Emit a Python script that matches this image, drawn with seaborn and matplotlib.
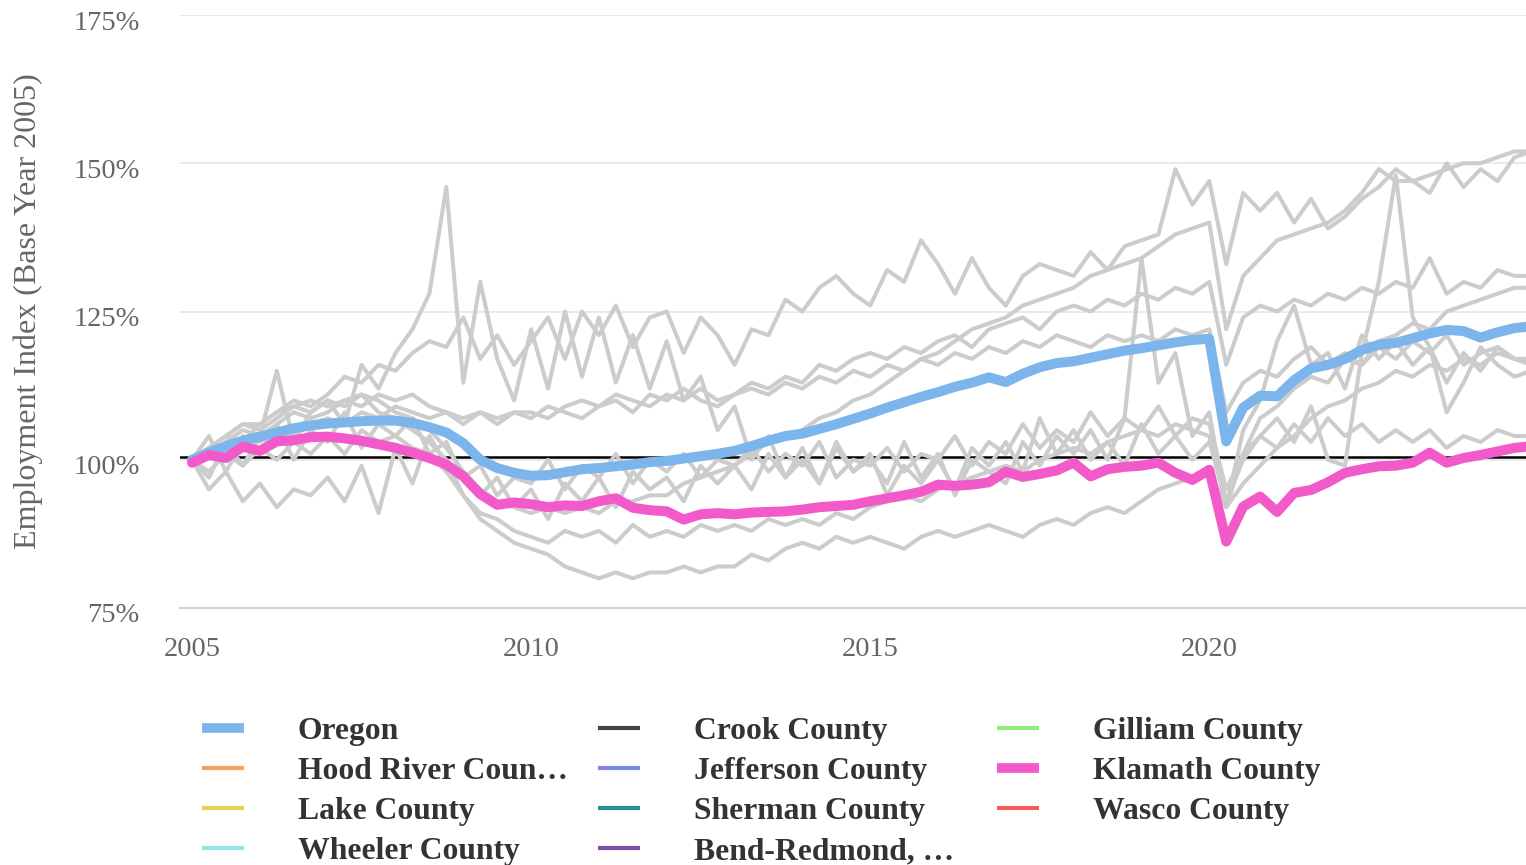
import matplotlib
matplotlib.use("Agg")
import matplotlib.pyplot as plt
import matplotlib.transforms as mtransforms
from matplotlib.lines import Line2D
import seaborn as sns
import pandas as pd
import numpy as np

# quarterly employment index, base year 2005 = 100
quarters = pd.date_range("2005-01-01", periods=80, freq="QS")

oregon = [
    100.0, 101.2, 102.3, 103.2, 103.9, 104.6, 105.3, 105.8, 106.1, 106.3, 106.5, 106.6,
    106.6, 106.2, 105.5, 104.6, 102.8, 100.0, 98.6, 97.8, 97.3, 97.4, 97.9, 98.4,
    98.6, 98.9, 99.2, 99.6, 99.8, 100.2, 100.6, 101.0, 101.5, 102.3, 103.2, 104.0,
    104.4, 105.2, 106.0, 106.9, 107.8, 108.8, 109.7, 110.6, 111.4, 112.3, 113.0, 113.9,
    113.1, 114.5, 115.6, 116.3, 116.6, 117.2, 117.8, 118.4, 118.8, 119.3, 119.8, 120.2,
    120.4, 103.1, 108.8, 110.8, 110.7, 113.4, 115.4, 116.0, 117.0, 118.5, 119.4, 119.7,
    120.5, 121.3, 121.9, 121.7, 120.6, 121.5, 122.2, 122.5,
]
klamath = [
    99.5, 100.8, 100.3, 102.2, 101.5, 103.1, 103.3, 103.8, 103.9, 103.6, 103.2, 102.6,
    102.0, 101.2, 100.3, 99.2, 97.2, 94.2, 92.4, 92.8, 92.5, 92.0, 92.3, 92.2,
    93.0, 93.5, 91.9, 91.5, 91.3, 89.9, 90.8, 91.0, 90.8, 91.1, 91.2, 91.3,
    91.6, 92.0, 92.2, 92.4, 93.0, 93.5, 94.0, 94.6, 95.8, 95.6, 95.8, 96.2,
    98.0, 97.1, 97.6, 98.2, 99.5, 97.2, 98.4, 98.8, 99.0, 99.5, 97.8, 96.6,
    98.3, 86.2, 92.1, 93.8, 91.2, 94.4, 94.9, 96.2, 97.8, 98.4, 98.9, 99.0,
    99.5, 101.2, 99.5, 100.3, 100.8, 101.4, 102.0, 102.3,
]
sherman = [
    100, 102, 104, 103, 106, 108, 110, 109, 111, 114, 113, 116,
    115, 118, 120, 119, 124, 117, 121, 116, 120, 124, 117, 125,
    121, 126, 119, 124, 125, 118, 124, 121, 116, 122, 121, 127,
    125, 129, 131, 128, 126, 132, 130, 137, 133, 128, 134, 129,
    126, 131, 133, 132, 131, 135, 132, 136, 137, 138, 149, 143,
    147, 133, 145, 142, 145, 140, 144, 139, 141, 144, 146, 149,
    147, 145, 150, 146, 149, 147, 151, 152,
]
bend_redmond = [
    100, 102, 104, 106, 106, 108, 109, 110, 109, 110, 111, 110,
    108, 107, 105, 102, 98, 95, 93, 92, 91, 92, 91, 92,
    91, 93, 93, 94, 94, 96, 97, 98, 99, 101, 103, 104,
    105, 107, 108, 110, 111, 113, 115, 117, 118, 120, 122, 123,
    124, 126, 127, 128, 129, 131, 132, 133, 134, 136, 138, 139,
    140, 122, 131, 134, 137, 138, 139, 140, 142, 145, 149, 147,
    147, 148, 149, 150, 150, 151, 152, 152,
]
gilliam = [
    100, 97, 103, 99, 104, 115, 103, 108, 110, 106, 116, 112,
    118, 122, 128, 146, 113, 130, 117, 110, 122, 112, 125, 114,
    124, 113, 121, 112, 120, 110, 114, 105, 109, 100, 104, 97,
    102, 96, 103, 98, 100, 96, 103, 97, 101, 94, 100, 98,
    96, 103, 99, 104, 101, 105, 100, 107, 134, 113, 118, 104,
    108, 92, 105, 110, 120, 126, 116, 118, 112, 121, 117, 120,
    116, 119, 113, 118, 115, 119, 117, 116,
]
wheeler = [
    100, 95, 98, 93, 96, 92, 95, 94, 97, 93, 99, 91,
    102, 96, 104, 99, 98, 94, 97, 92, 95, 90, 96, 93,
    97, 92, 98, 95, 97, 93, 99, 96, 99, 95, 101, 97,
    100, 96, 102, 98, 101, 94, 99, 96, 100, 95, 102, 99,
    103, 98, 107, 101, 105, 100, 103, 99, 106, 101, 104, 100,
    103, 93, 100, 104, 107, 103, 109, 100, 99, 118, 130, 148,
    124, 119, 108, 113, 119, 116, 114, 115,
]
hood_river = [
    100, 101, 103, 105, 104, 106, 108, 107, 108, 110, 109, 111,
    110, 111, 109, 108, 107, 108, 106, 108, 107, 109, 108, 107,
    109, 110, 108, 111, 110, 112, 110, 109, 111, 113, 112, 114,
    113, 116, 115, 117, 118, 117, 119, 118, 120, 121, 119, 122,
    123, 124, 122, 125, 126, 125, 127, 126, 128, 127, 129, 128,
    130, 116, 124, 126, 125, 127, 126, 128, 127, 129, 128, 130,
    129, 134, 128, 130, 129, 132, 131, 131,
]
wasco = [
    100, 102, 101, 104, 103, 105, 104, 106, 107, 106, 108, 107,
    109, 108, 107, 108, 106, 108, 107, 108, 108, 107, 109, 110,
    109, 111, 110, 109, 111, 110, 112, 110, 111, 112, 111, 113,
    112, 114, 113, 115, 114, 116, 115, 117, 116, 118, 117, 119,
    118, 120, 119, 121, 120, 119, 121, 120, 121, 120, 122, 121,
    122, 108, 113, 115, 114, 117, 119, 116, 118, 116, 119, 117,
    120, 118, 121, 116, 118, 119, 117, 117,
]
jefferson = [
    100, 104, 98, 103, 101, 106, 100, 105, 103, 108, 102, 106,
    104, 107, 101, 103, 97, 99, 94, 97, 96, 100, 95, 99,
    97, 101, 96, 100, 98, 101, 97, 100, 99, 102, 98, 101,
    99, 103, 97, 100, 99, 102, 98, 101, 100, 104, 99, 103,
    101, 106, 102, 105, 103, 108, 104, 107, 105, 109, 104, 107,
    106, 95, 101, 104, 102, 106, 103, 107, 104, 106, 103, 105,
    103, 105, 102, 104, 103, 105, 104, 104,
]
lake = [
    100, 98, 101, 99, 102, 100, 103, 101, 104, 101, 105, 103,
    104, 102, 101, 98, 94, 91, 90, 88, 87, 86, 88, 87,
    88, 86, 89, 87, 88, 87, 89, 88, 89, 88, 90, 89,
    90, 89, 91, 90, 92, 93, 94, 93, 95, 96, 97, 98,
    99, 98, 100, 101, 102, 101, 103, 104, 105, 104, 106, 105,
    104, 92, 101, 107, 109, 112, 114, 113, 117, 116, 120, 121,
    123, 122, 125, 126, 127, 128, 129, 129,
]
crook = [
    100, 102, 104, 106, 105, 107, 109, 108, 110, 109, 111, 108,
    107, 105, 103, 100, 94, 90, 88, 86, 85, 84, 82, 81,
    80, 81, 80, 81, 81, 82, 81, 82, 82, 84, 83, 85,
    86, 85, 87, 86, 87, 86, 85, 87, 88, 87, 88, 89,
    88, 87, 89, 90, 89, 91, 92, 91, 93, 95, 96, 97,
    98, 92, 96, 99, 102, 104, 107, 109, 110, 112, 113, 115,
    114, 116, 115, 117, 116, 118, 117, 117,
]

baseline = 100.5

highlight = {"Oregon": oregon, "Klamath County": klamath}
background = {
    "Sherman County": sherman, "Bend-Redmond": bend_redmond, "Gilliam County": gilliam,
    "Wheeler County": wheeler, "Hood River County": hood_river, "Wasco County": wasco,
    "Jefferson County": jefferson, "Lake County": lake, "Crook County": crook,
}

years = quarters.year + (quarters.month - 1) / 12.0

def to_long(series):
    frames = [pd.DataFrame({"year": years, "index": vals, "area": name})
              for name, vals in series.items()]
    return pd.concat(frames, ignore_index=True)

bg_df = to_long(background)

sns.set_style("white")
plt.rcParams["font.family"] = ["Liberation Serif", "DejaVu Serif"]

fig = plt.figure(figsize=(15.26, 8.65), dpi=100)
ax = fig.add_axes([180 / 1526, 1 - 608 / 865, 1 - 180 / 1526, (608 - 15) / 865])

ax.axhline(baseline, color="black", lw=1.8, zorder=1.5)

sns.lineplot(data=bg_df, x="year", y="index", hue="area",
             palette=["#cccccc"] * len(background), lw=2.9, legend=False,
             ax=ax, zorder=2, solid_joinstyle="round")
sns.lineplot(x=years, y=oregon, color="#7cb5ec", lw=7.2, ax=ax, zorder=3,
             solid_joinstyle="round", solid_capstyle="round")
sns.lineplot(x=years, y=klamath, color="#f25ac9", lw=7.2, ax=ax, zorder=3,
             solid_joinstyle="round", solid_capstyle="round")

ax.set_xlim(2004.823, 2024.67)
ax.set_ylim(75, 175)
ax.set_yticks([75, 100, 125, 150, 175])
ax.set_yticklabels(["75%", "100%", "125%", "150%", "175%"])
ax.set_xticks([2005, 2010, 2015, 2020])
ax.set_xticklabels(["2005", "2010", "2015", "2020"])

ax.grid(axis="y", color="#e6e6e6", lw=1.2)
ax.grid(axis="x", visible=False)
for side in ["top", "right", "left"]:
    ax.spines[side].set_visible(False)
ax.spines["bottom"].set_color("#ccd6eb")
ax.spines["bottom"].set_linewidth(1.6)

ax.tick_params(axis="y", length=0, pad=29, labelsize=20.5, labelcolor="#666666")
ax.tick_params(axis="x", length=15, width=1.4, color="#ccd6eb", pad=6,
               labelsize=20.5, labelcolor="#666666")
offset = mtransforms.ScaledTranslation(0, -5 / 100, fig.dpi_scale_trans)
for lab in ax.get_yticklabels():
    lab.set_transform(lab.get_transform() + offset)

ax.set_xlabel("")
ax.set_ylabel("Employment Index (Base Year 2005)", fontsize=23, color="#666666")
ax.yaxis.set_label_coords(-137 / 1346, 0.5)

# legend laid out row by row in three fixed-width columns
columns = [
    [("Oregon", "#7cb5ec", 7), ("Hood River Coun…", "#f7a35c", 3),
     ("Lake County", "#e4d354", 3), ("Wheeler County", "#91e8e1", 3)],
    [("Crook County", "#434348", 3), ("Jefferson County", "#8085e9", 3),
     ("Sherman County", "#2b908f", 3), ("Bend-Redmond, …", "#7f4fa8", 3)],
    [("Gilliam County", "#90ed7d", 3), ("Klamath County", "#f25ac9", 7),
     ("Wasco County", "#f45b5b", 3)],
]
col_x = [202, 598, 997]
for cx, items in zip(col_x, columns):
    handles = [Line2D([], [], color=c, lw=w, solid_capstyle="butt") for _, c, w in items]
    labels = [name for name, _, _ in items]
    fig.legend(handles, labels, loc="upper left",
               bbox_to_anchor=(cx / 1526, 1 - 717 / 865),
               frameon=False, borderpad=0, borderaxespad=0,
               handlelength=1.33, handletextpad=1.7, labelspacing=0.34,
               prop={"family": "Liberation Serif", "weight": "bold", "size": 22.8},
               labelcolor="#333333")

fig.savefig("out.png", dpi=100)
